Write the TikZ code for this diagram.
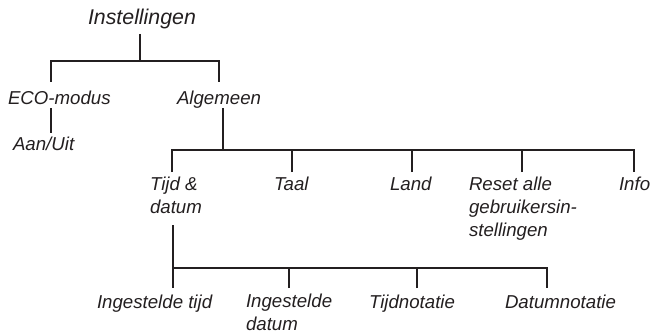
\documentclass[tikz,border=0pt]{standalone}
\usepackage{fontspec}
\setmainfont{Liberation Sans}

\tikzset{every picture/.style={line width=1.5pt}}
\tikzset{
  lbl/.style={font=\itshape\fontsize{14}{17.25}\selectfont, inner sep=0pt, align=left, anchor=base west, text={rgb,255:red,35;green,31;blue,32}},
  toplbl/.style={lbl, font=\itshape\fontsize{16}{19}\selectfont},
  conn/.style={draw={rgb,255:red,35;green,31;blue,32}}
}

\begin{document}
\begin{tikzpicture}[x=0.75pt,y=0.75pt,yscale=-1,xscale=1]
	\useasboundingbox (0,0) rectangle (653,335);

	% Text Node (multi-line nodes are placed by the baseline of their last line)
	\node [toplbl] (inst) at (87,25) {Instellingen};
	% Text Node
	\node [lbl] (eco) at (7,104) {ECO-modus};
	% Text Node
	\node [lbl] (alg) at (176,104) {Algemeen};
	% Text Node
	\node [lbl] (aan) at (12,150) {Aan/Uit};
	% Text Node
	\node [lbl] (tijd) at (149,213) {Tijd \&\\datum};
	% Text Node
	\node [lbl] (taal) at (273,190) {Taal};
	% Text Node
	\node [lbl] (land) at (389,190) {Land};
	% Text Node
	\node [lbl] (reset) at (468,236) {Reset alle\\gebruikersin-\\stellingen};
	% Text Node
	\node [lbl] (info) at (618,190) {Info};
	% Text Node
	\node [lbl] (ingtijd) at (96,308) {Ingestelde tijd};
	% Text Node
	\node [lbl] (ingdat) at (245,330) {Ingestelde\\datum};
	% Text Node
	\node [lbl] (tnot) at (368,308) {Tijdnotatie};
	% Text Node
	\node [lbl] (dnot) at (504,308) {Datumnotatie};

	%Line ends
	\coordinate (inst-s) at (140,34);
	\coordinate (b1) at (140,61);
	\coordinate (eco-n) at (51,82);
	\coordinate (alg-n) at (219,82);
	\coordinate (eco-s) at (51,108);
	\coordinate (aan-n) at (51,133);
	\coordinate (alg-s) at (223,108);
	\coordinate (b2) at (223,150);
	\coordinate (tijd-n) at (172,172);
	\coordinate (taal-n) at (292,172);
	\coordinate (land-n) at (412,172);
	\coordinate (reset-n) at (522,172);
	\coordinate (info-n) at (634,172);
	\coordinate (tijd-s) at (173,225);
	\coordinate (b3) at (173,268);
	\coordinate (ingtijd-n) at (173,288);
	\coordinate (ingdat-n) at (289,288);
	\coordinate (tnot-n) at (417,288);
	\coordinate (dnot-n) at (547,288);

	%Straight Lines
	\draw [conn] (inst-s) -- (b1);
	\draw [conn] (eco-n) |- (b1) -| (alg-n);
	\draw [conn] (eco-s) -- (aan-n);
	%Straight Lines
	\draw [conn] (alg-s) -- (b2);
	\draw [conn] (tijd-n) |- (b2) -| (info-n);
	\foreach \n in {taal,land,reset}
		\draw [conn] (\n-n) -- (\n-n |- b2);
	%Straight Lines
	\draw [conn] (tijd-s) -- (ingtijd-n);
	\draw [conn] (b3) -| (dnot-n);
	\foreach \n in {ingdat,tnot}
		\draw [conn] (\n-n) -- (\n-n |- b3);

\end{tikzpicture}
\end{document}
